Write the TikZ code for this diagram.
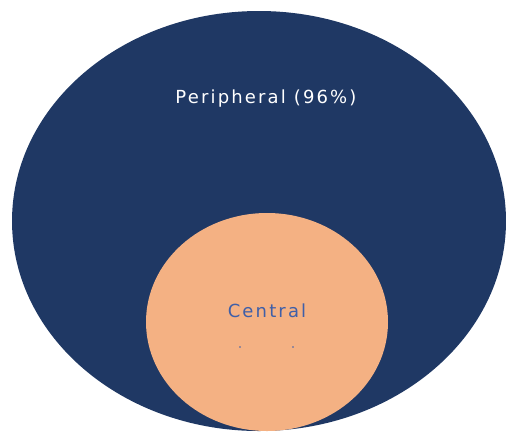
\documentclass[tikz,border=0pt]{standalone}
\usepackage{fontspec}
\newfontfamily\labfont[LetterSpace=12]{DejaVu Sans}
\definecolor{navy}{HTML}{1F3864}
\definecolor{peach}{HTML}{F4B183}
\definecolor{txtblue}{HTML}{3F5FA8}
\begin{document}
\begin{tikzpicture}[x=1pt,y=-1pt,
  lab/.style={font=\labfont\fontsize{18}{21}\selectfont, inner sep=0pt},
  dotty/.style={fill=txtblue, circle, inner sep=0pt, minimum size=1.8pt}]
\useasboundingbox (0,0) rectangle (506,432);
\fill[navy] (259,221) ellipse [x radius=247, y radius=210];
\fill[peach] (267,322) ellipse [x radius=121, y radius=109];
\node[lab, text=white] (per) at (266,99) {Peripheral (96\%)};
\node[lab, text=txtblue] (cen) at (267,311) {Central};
\node[dotty] (d1) at (240,347) {};
\node[dotty] (d2) at (293,347) {};
\end{tikzpicture}
\end{document}
